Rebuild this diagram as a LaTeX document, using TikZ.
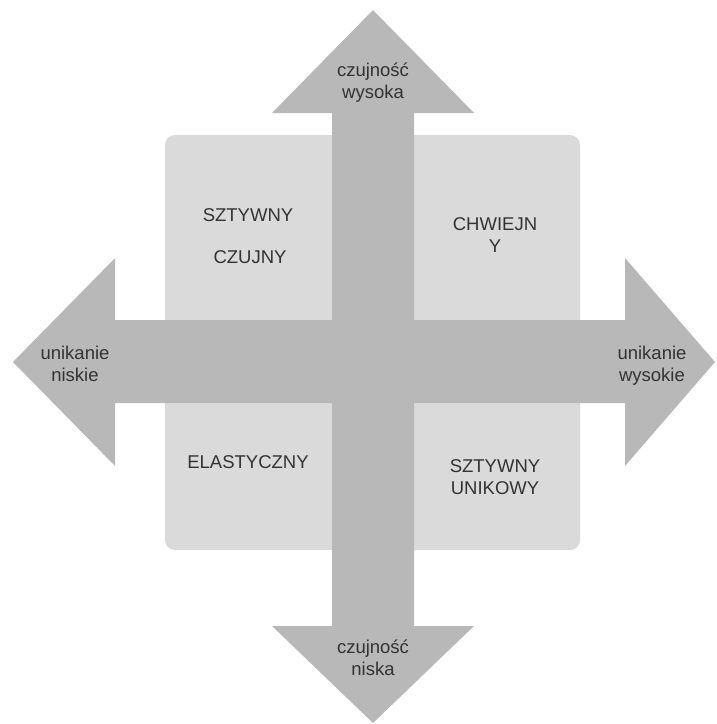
\documentclass[tikz,border=0pt]{standalone}
\usepackage{fontspec}
\setmainfont{Liberation Sans}
\definecolor{arrowgray}{HTML}{B8B8B8}
\definecolor{quadgray}{HTML}{DADADA}
\definecolor{textgray}{HTML}{333333}
\tikzset{
  lbl/.style={text=textgray, align=center, font=\fontsize{18.5}{22}\selectfont},
}
\begin{document}
\begin{tikzpicture}[x=1pt, y=-1pt]
    \useasboundingbox (0,0) rectangle (716,724);
    % quadrants
    \fill[quadgray, rounded corners=10pt] (165,135) rectangle (580,550);
    % vertical arrow
    \fill[arrowgray] (373,10) -- (474,113) -- (414,113) -- (414,626) -- (474,626)
        -- (373,723) -- (272,626) -- (332,626) -- (332,113) -- (272,113) -- cycle;
    % horizontal arrow
    \fill[arrowgray] (13,362) -- (115,258) -- (115,320) -- (625,320) -- (625,258)
        -- (715,362) -- (625,466) -- (625,403) -- (115,403) -- (115,466) -- cycle;

    \node[lbl] at (373,83) (high) {czujność\\wysoka};
    \node[lbl] at (373,658) (low) {czujność\\niska};
    \node[lbl] at (75,364) (left) {unikanie\\niskie};
    \node[lbl] at (652,366) (right) {unikanie\\wysokie};

    \node[lbl] at (248,215) (sz) {SZTYWNY};
    \node[lbl] at (250,257) (cz) {CZUJNY};
    \node[lbl] at (495,235) (ch) {CHWIEJN\\Y};
    \node[lbl] at (248,462) (el) {ELASTYCZNY};
    \node[lbl] at (495,477) (su) {SZTYWNY\\UNIKOWY};
  \end{tikzpicture}
\end{document}
